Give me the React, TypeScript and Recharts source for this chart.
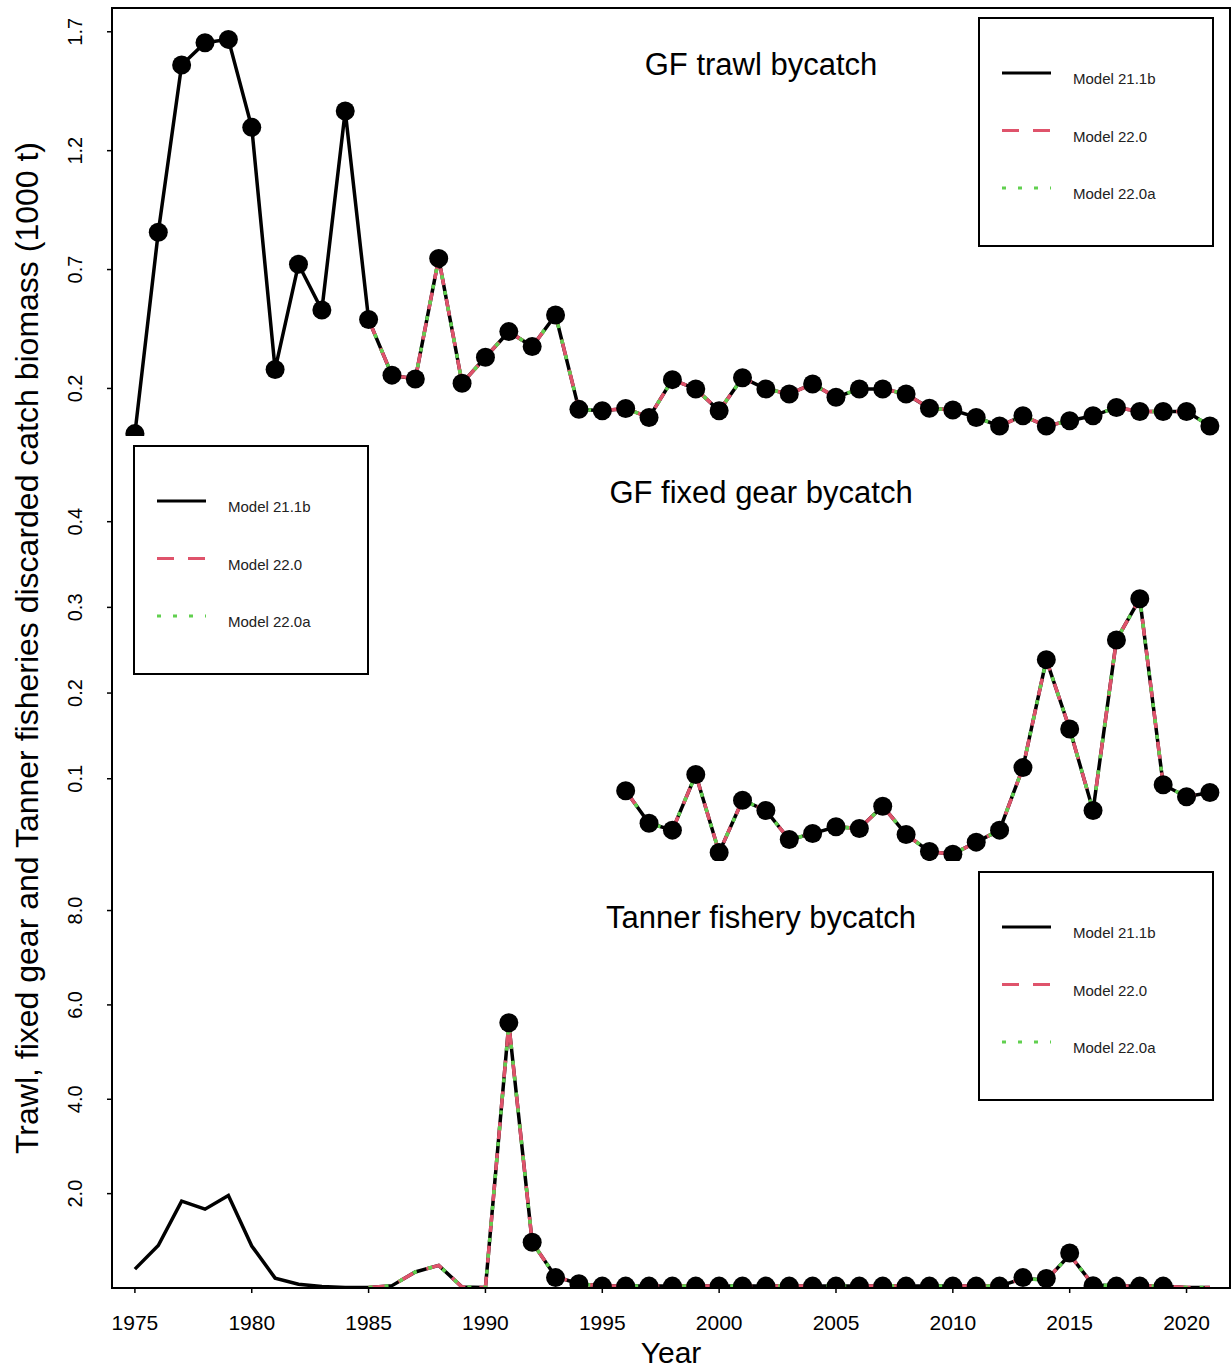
import { LineChart, Line, XAxis, YAxis, Legend } from "recharts";

const FONT = '"Liberation Sans", Arial, sans-serif';
const RED = "#DF536B";
const GREEN = "#61D04F";

const years = [
  1975, 1976, 1977, 1978, 1979, 1980, 1981, 1982, 1983, 1984, 1985, 1986,
  1987, 1988, 1989, 1990, 1991, 1992, 1993, 1994, 1995, 1996, 1997, 1998,
  1999, 2000, 2001, 2002, 2003, 2004, 2005, 2006, 2007, 2008, 2009, 2010,
  2011, 2012, 2013, 2014, 2015, 2016, 2017, 2018, 2019, 2020, 2021,
];
const yearTicks = [1975, 1980, 1985, 1990, 1995, 2000, 2005, 2010, 2015, 2020];

// GF trawl bycatch (1000 t)
const trawlObs = [
  0.01, 0.857, 1.56, 1.654, 1.668, 1.298, 0.28, 0.722, 0.53, 1.367, 0.49,
  0.256, 0.24, 0.747, 0.222, 0.331, 0.439, 0.376, 0.509, 0.112, 0.106, 0.116,
  0.078, 0.237, 0.198, 0.106, 0.245, 0.198, 0.177, 0.219, 0.163, 0.198, 0.198,
  0.177, 0.117, 0.109, 0.078, 0.042, 0.085, 0.042, 0.064, 0.085, 0.12, 0.103,
  0.103, 0.103, 0.042,
];
const trawlFit211 = trawlObs;
const trawlFit220 = [
  null, null, null, null, null, null, null, null, null, null, 0.49,
  0.256, 0.24, 0.747, 0.222, 0.331, 0.439, 0.376, 0.509, 0.112, 0.106, 0.116,
  0.078, 0.237, 0.198, 0.106, 0.245, 0.198, 0.177, 0.219, 0.163, 0.198, 0.198,
  0.177, 0.117, 0.109, 0.078, 0.042, 0.085, 0.042, 0.064, 0.085, 0.12, 0.103,
  0.103, 0.103, 0.042,
];
const trawlFit220a = trawlFit220;

// GF fixed gear bycatch (1000 t)
const fixedObs = [
  null, null, null, null, null, null, null, null, null, null, null, null,
  null, null, null, null, null, null, null, null, null, 0.086, 0.048, 0.04,
  0.105, 0.014, 0.075, 0.063, 0.029, 0.036, 0.044, 0.042, 0.068, 0.035, 0.015,
  0.012, 0.026, 0.04, 0.113, 0.239, 0.158, 0.063, 0.262, 0.31, 0.093, 0.079,
  0.084,
];
const fixedFit211 = fixedObs;
const fixedFit220 = fixedObs;
const fixedFit220a = fixedObs;

// Tanner fishery bycatch (1000 t)
const tannerObs = [
  null, null, null, null, null, null, null, null, null, null, null, null,
  null, null, null, null, 5.62, 0.97, 0.22, 0.09, 0.04, 0.04, 0.04, 0.04,
  0.04, 0.04, 0.04, 0.04, 0.04, 0.04, 0.04, 0.04, 0.04, 0.04, 0.04, 0.04,
  0.04, 0.04, 0.22, 0.2, 0.74, 0.05, 0.04, 0.04, 0.04, null, null,
];
const tannerFit211 = [
  0.4, 0.9, 1.84, 1.67, 1.96, 0.89, 0.21, 0.08, 0.03, 0.01, 0.01, 0.05,
  0.34, 0.48, 0.02, 0.01, 5.6, 0.97, 0.24, 0.09, 0.04, 0.04, 0.04, 0.04,
  0.04, 0.04, 0.04, 0.04, 0.04, 0.04, 0.04, 0.04, 0.04, 0.04, 0.04, 0.04,
  0.04, 0.04, 0.2, 0.17, 0.7, 0.07, 0.04, 0.04, 0.04, 0.01, 0.01,
];
const tannerFit220 = [
  null, null, null, null, null, null, null, null, null, null, 0.01, 0.05,
  0.34, 0.48, 0.02, 0.01, 5.6, 0.97, 0.24, 0.09, 0.04, 0.04, 0.04, 0.04,
  0.04, 0.04, 0.04, 0.04, 0.04, 0.04, 0.04, 0.04, 0.04, 0.04, 0.04, 0.04,
  0.04, 0.04, 0.2, 0.17, 0.7, 0.07, 0.04, 0.04, 0.04, 0.01, 0.01,
];
const tannerFit220a = tannerFit220;

const models = [
  { key: "m211", name: "Model 21.1b", color: "#000000", dash: undefined },
  { key: "m220", name: "Model 22.0", color: RED, dash: "17 14" },
  { key: "m220a", name: "Model 22.0a", color: GREEN, dash: "4 12" },
];

const buildRows = (obs, f1, f2, f3) =>
  years.map((year, i) => ({
    year,
    obs: obs[i],
    m211: f1[i],
    m220: f2[i],
    m220a: f3[i],
  }));

const panels = [
  {
    title: "GF trawl bycatch",
    rows: buildRows(trawlObs, trawlFit211, trawlFit220, trawlFit220a),
    domain: [0, 1.8],
    ticks: [0.2, 0.7, 1.2, 1.7],
    top: 0,
    height: 436,
    marginTop: 8,
    legend: { left: 978, top: 17 },
  },
  {
    title: "GF fixed gear bycatch",
    rows: buildRows(fixedObs, fixedFit211, fixedFit220, fixedFit220a),
    domain: [0.004, 0.5],
    ticks: [0.1, 0.2, 0.3, 0.4],
    top: 436,
    height: 425,
    marginTop: 0,
    legend: { left: 133, top: 9 },
  },
  {
    title: "Tanner fishery bycatch",
    rows: buildRows(tannerObs, tannerFit211, tannerFit220, tannerFit220a),
    domain: [0, 9.05],
    ticks: [2, 4, 6, 8],
    top: 861,
    height: 509,
    marginTop: 0,
    legend: { left: 978, top: 10 },
  },
];

function YTick(props) {
  const { x, y, payload } = props;
  return (
    <text
      x={x}
      y={y}
      transform={`rotate(-90 ${x} ${y})`}
      textAnchor="middle"
      fontSize={20}
      fontFamily={FONT}
      fill="#000"
    >
      {Number(payload.value).toFixed(1)}
    </text>
  );
}

function XTick(props) {
  const { x, y, payload } = props;
  return (
    <text x={x} y={y} dy={17} textAnchor="middle" fontSize={21} fontFamily={FONT} fill="#000">
      {payload.value}
    </text>
  );
}

function LegendBox() {
  return (
    <div
      style={{
        width: 236,
        height: 230,
        border: "2px solid #000",
        boxSizing: "border-box",
        background: "#fff",
      }}
    >
      <svg width={232} height={226} style={{ display: "block" }}>
        {models.map((m, i) => {
          const ly = 54 + i * 57.5;
          return (
            <g key={m.key}>
              <line
                x1={22}
                x2={71}
                y1={ly}
                y2={ly}
                stroke={m.color}
                strokeWidth={3}
                strokeDasharray={m.dash}
              />
              <text x={93} y={ly + 11} fontSize={15} fontFamily={FONT} fill="#222">
                {m.name}
              </text>
            </g>
          );
        })}
      </svg>
    </div>
  );
}

function Panel({ p, last }) {
  return (
    <div style={{ position: "absolute", left: 0, top: p.top }}>
      <LineChart
        width={1231}
        height={p.height}
        data={p.rows}
        margin={{ top: p.marginTop, right: 1, bottom: 0, left: 0 }}
      >
        <XAxis
          dataKey="year"
          type="number"
          domain={[1974.02, 2021.86]}
          allowDataOverflow
          ticks={yearTicks}
          height={last ? 82 : 0}
          tick={last ? <XTick /> : false}
          tickLine={last ? { stroke: "#000", strokeWidth: 1.5 } : false}
          tickSize={5}
          tickMargin={20}
          axisLine={{ stroke: "#000", strokeWidth: 2 }}
        />
        <YAxis
          type="number"
          domain={p.domain}
          allowDataOverflow
          ticks={p.ticks}
          width={112}
          tick={<YTick />}
          tickSize={5}
          tickMargin={25}
          tickLine={{ stroke: "#000", strokeWidth: 1.5 }}
          axisLine={{ stroke: "#000", strokeWidth: 2 }}
        />
        <Legend
          layout="vertical"
          align="center"
          verticalAlign="middle"
          content={() => <LegendBox />}
          wrapperStyle={{ left: p.legend.left, top: p.legend.top, width: 236, height: 230 }}
        />
        <Line
          dataKey="obs"
          stroke="none"
          dot={{ r: 9.5, fill: "#000", stroke: "none" }}
          activeDot={false}
          legendType="none"
          isAnimationActive={false}
        />
        {models.map((m) => (
          <Line
            key={m.key}
            dataKey={m.key}
            name={m.name}
            stroke={m.color}
            strokeWidth={3.5}
            strokeDasharray={m.dash}
            dot={false}
            activeDot={false}
            isAnimationActive={false}
          />
        ))}
      </LineChart>
    </div>
  );
}

export default function App() {
  return (
    <div
      style={{
        position: "absolute",
        left: 0,
        top: 0,
        width: 1231,
        height: 1370,
        background: "#fff",
        overflow: "hidden",
      }}
    >
      {panels.map((p, i) => (
        <Panel key={p.title} p={p} last={i === panels.length - 1} />
      ))}
      <svg
        width={1231}
        height={1370}
        style={{ position: "absolute", left: 0, top: 0, pointerEvents: "none" }}
      >
        <rect x={112} y={8} width={1118} height={1280} fill="none" stroke="#000" strokeWidth={2} />
        {panels.map((p) => (
          <text
            key={p.title}
            x={761}
            y={p.top + 75 - (p.marginTop ? 0 : 8)}
            textAnchor="middle"
            fontSize={31}
            fontFamily={FONT}
            fill="#000"
          >
            {p.title}
          </text>
        ))}
        <text
          x={38}
          y={648}
          transform="rotate(-90 38 648)"
          textAnchor="middle"
          fontSize={32}
          fontFamily={FONT}
          fill="#000"
        >
          Trawl, fixed gear and Tanner fisheries discarded catch biomass (1000 t)
        </text>
        <text x={671} y={1363} textAnchor="middle" fontSize={30} fontFamily={FONT} fill="#000">
          Year
        </text>
      </svg>
    </div>
  );
}
